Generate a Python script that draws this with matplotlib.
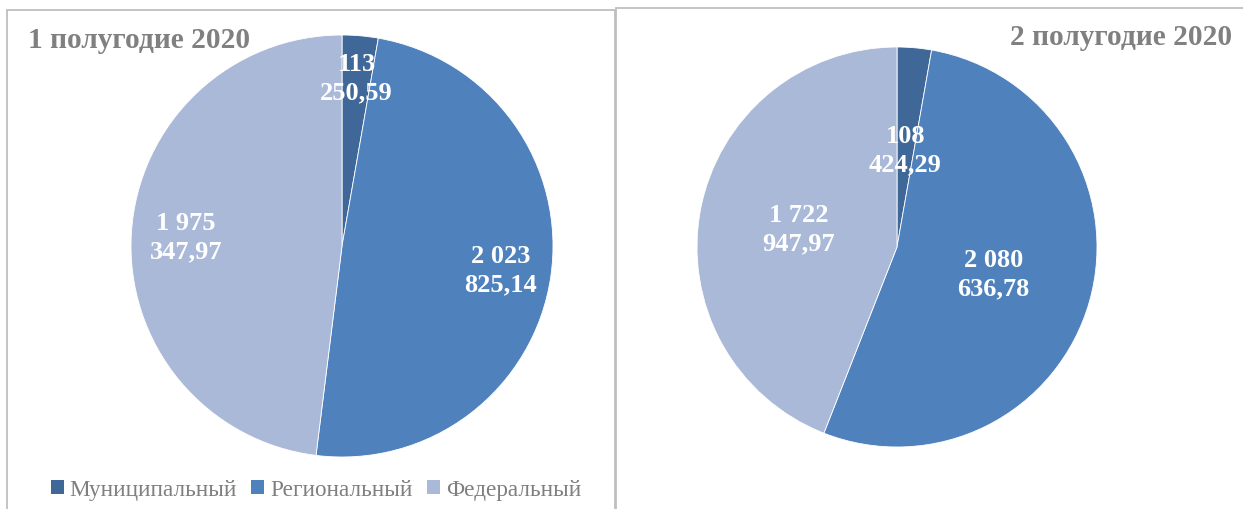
import numpy as np
import matplotlib
matplotlib.use('Agg')
import matplotlib.pyplot as plt
from matplotlib.patches import Rectangle, Patch

plt.rcParams['font.family'] = ['Liberation Serif', 'DejaVu Serif']

# данные
kategorii = ['Муниципальный', 'Региональный', 'Федеральный']
polugodie_1 = [113250.59, 2023825.14, 1975347.97]
polugodie_2 = [108424.29, 2080636.78, 1722947.97]
naslovi = ['1 полугодие 2020', '2 полугодие 2020']

boje = ['#3F6899', '#4F81BD', '#AAB9D7']
siva = '#BFBFBF'

W, H = 1243, 510
fig = plt.figure(figsize=(W / 100, H / 100), dpi=100)


def px_ax(cx, cy, r):
    # osi zadane centrom i radijusom u pikselima (y od vrha)
    return fig.add_axes([(cx - r) / W, (H - cy - r) / H, 2 * r / W, 2 * r / H])


def oznaka(v):
    s = '{:,.2f}'.format(v).replace(',', ' ').replace('.', ',')
    i = s.rfind(' ')
    return s[:i] + '\n' + s[i + 1:]


def crtaj_pitu(ax, vrijednosti, udaljenosti):
    wedges, _ = ax.pie(vrijednosti, colors=boje, startangle=90, counterclock=False,
                       radius=1, wedgeprops=dict(edgecolor='white', linewidth=0.6))
    ax.set_xlim(-1, 1)
    ax.set_ylim(-1, 1)
    for w, v, d in zip(wedges, vrijednosti, udaljenosti):
        ugao = np.deg2rad((w.theta1 + w.theta2) / 2)
        ax.text(d * np.cos(ugao), d * np.sin(ugao), oznaka(v), ha='center', va='center',
                color='white', fontsize=19, fontweight='bold', linespacing=1.3)
    return wedges


# okviri
fig.patches.append(Rectangle((7 / W, -0.1), (615 - 7) / W, (H - 11) / H + 0.1,
                             transform=fig.transFigure, fill=False, edgecolor=siva,
                             linewidth=1.3, zorder=0))
fig.patches.append(Rectangle((616 / W, -0.1), 1.0, (H - 9) / H + 0.1,
                             transform=fig.transFigure, fill=False, edgecolor=siva,
                             linewidth=1.3, zorder=0))

ax1 = px_ax(342, 247, 211)
crtaj_pitu(ax1, polugodie_1, [0.8, 0.76, 0.74])

ax2 = px_ax(897, 248, 200)
crtaj_pitu(ax2, polugodie_2, [0.49, 0.5, 0.5])

fig.text(28 / W, 1 - 48 / H, naslovi[0], ha='left', va='baseline', fontsize=21.2,
         fontweight='bold', color='#808080')
fig.text(1232 / W, 1 - 45 / H, naslovi[1], ha='right', va='baseline', fontsize=21.2,
         fontweight='bold', color='#808080')

rucke = [Patch(facecolor=c, edgecolor='none') for c in boje]
fig.legend(rucke, kategorii, loc='center', bbox_to_anchor=(316 / W, 1 - 491 / H),
           ncol=3, frameon=False, fontsize=16.7, handlelength=0.56, handleheight=0.56,
           handletextpad=0.25, columnspacing=0.62, labelcolor='#7F7F7F',
           borderpad=0, borderaxespad=0)

fig.savefig('out.png', dpi=100)
